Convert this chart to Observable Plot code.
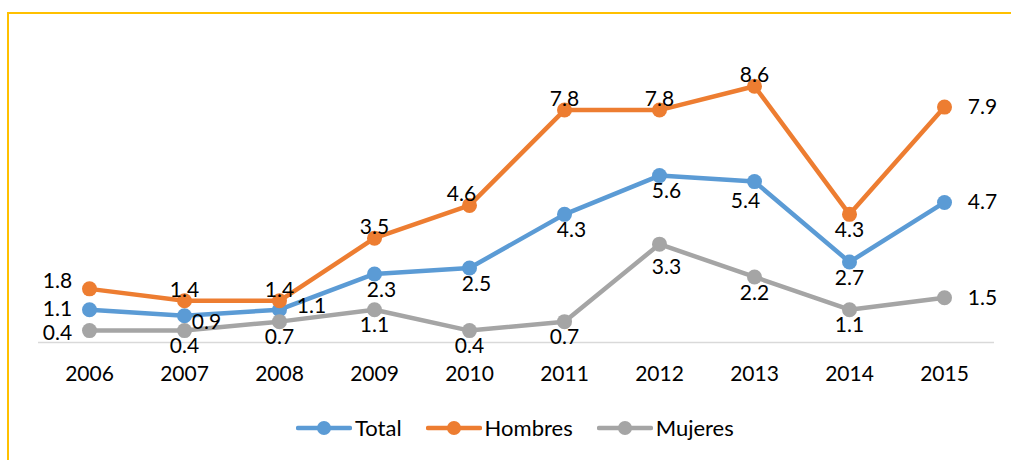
<!DOCTYPE html>
<html>
<head>
<meta charset="utf-8">
<script src="https://cdn.jsdelivr.net/npm/d3@7"></script>
<script src="https://cdn.jsdelivr.net/npm/@observablehq/plot@0.6"></script>
<style>
  html, body { margin: 0; padding: 0; background: #fff; width: 1011px; height: 460px; overflow: hidden; }
  #frame { position: absolute; left: 7px; top: 12px; width: 1200px; height: 600px; border-top: 2px solid #FFC000; border-left: 2px solid #FFC000; box-sizing: border-box; }
  #chart { position: absolute; left: 0; top: 0; }
  #legend { position: absolute; left: 296px; top: 414px; display: flex; align-items: center; font-family: Lato, sans-serif; font-size: 22px; color: #000; }
  .item { display: flex; align-items: center; margin-right: 24px; }
  .item span { margin-left: 3px; }
</style>
</head>
<body>
<div id="frame"></div>
<div id="chart"></div>
<div id="legend"></div>
<script>
// ---- data ----
const years = ["2006","2007","2008","2009","2010","2011","2012","2013","2014","2015"];
const seriesNames = ["Total","Hombres","Mujeres"];
const total   = [1.1, 0.9, 1.1, 2.3, 2.5, 4.3, 5.6, 5.4, 2.7, 4.7];
const hombres = [1.8, 1.4, 1.4, 3.5, 4.6, 7.8, 7.8, 8.6, 4.3, 7.9];
const mujeres = [0.4, 0.4, 0.7, 1.1, 0.4, 0.7, 3.3, 2.2, 1.1, 1.5];
const seriesColors = ["#5B9BD5", "#ED7D31", "#A5A5A5"];

// label placement codes (style only)
const totalLabelPos   = ["L","RB","RA","BR","BR","BR","BR","BL","B","R"];
const hombresLabelPos = ["LA","A","A","A","AL","A","A","A","B","R"];
const mujeresLabelPos = ["LB","B","B","B","B","B","BB","B","B","R"];
const offsets = {
  L:[-32,0], LA:[-32,-8], LB:[-32,3], A:[0,-11], AL:[-8,-11], B:[0,16], BR:[7,16],
  BL:[-9,20], BB:[7,23], R:[38,0], RB:[22,7], RA:[32,-3]
};

const valuesBySeries = [total, hombres, mujeres];
const posBySeries = [totalLabelPos, hombresLabelPos, mujeresLabelPos];
const rows = seriesNames.flatMap((s, si) => years.map((year, i) => ({
  series: s, year, value: valuesBySeries[si][i], pos: posBySeries[si][i]
})));

const fmt = d3.format(".1f");
const marks = [Plot.ruleY([0], {stroke: "#D9D9D9", strokeWidth: 1.5})];
for (const s of seriesNames) {
  const d = rows.filter(r => r.series === s);
  marks.push(Plot.line(d, {x: "year", y: "value", stroke: "series", strokeWidth: 4.5, strokeLinejoin: "round", strokeLinecap: "round"}));
  marks.push(Plot.dot(d, {x: "year", y: "value", fill: "series", r: 7.5}));
}
for (const [code, [dx, dy]] of Object.entries(offsets)) {
  marks.push(Plot.text(rows.filter(r => r.pos === code), {
    x: "year", y: "value", text: d => fmt(d.value), dx, dy, fill: "#000", fontSize: 21
  }));
}
marks.push(Plot.axisX({tickSize: 0, tickPadding: 24, fontSize: 21, label: null}));

const chart = Plot.plot({
  width: 1011,
  height: 400,
  marginLeft: 38,
  marginRight: 17,
  marginTop: 44,
  marginBottom: 58,
  style: {fontFamily: "Lato, sans-serif", fontSize: "21px", color: "#000", background: "transparent", overflow: "visible"},
  x: {type: "point", domain: years, padding: 0.5, label: null, axis: null},
  y: {domain: [0, 10], axis: null},
  color: {domain: seriesNames, range: seriesColors},
  marks
});
document.getElementById("chart").appendChild(chart);

// legend
const legend = document.getElementById("legend");
seriesNames.forEach((s, i) => {
  const item = document.createElement("div");
  item.className = "item";
  item.innerHTML = `<svg width="56" height="16"><line x1="2" y1="8" x2="54" y2="8" stroke="${seriesColors[i]}" stroke-width="4.5" stroke-linecap="round"/><circle cx="28" cy="8" r="7" fill="${seriesColors[i]}"/></svg><span>${s}</span>`;
  legend.appendChild(item);
});
</script>
</body>
</html>
